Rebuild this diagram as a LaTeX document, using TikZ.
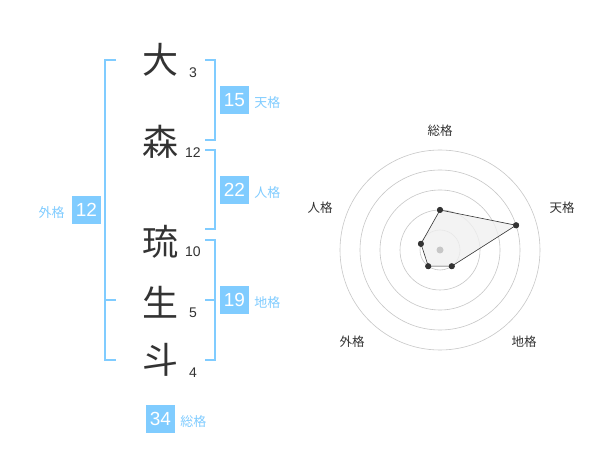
\documentclass[tikz,border=0pt]{standalone}
\usepackage{fontspec}
\usetikzlibrary{positioning}
\setmainfont{Liberation Sans}
\newfontfamily\jp{Noto Sans CJK JP}
\definecolor{sky}{RGB}{128,204,255}
\definecolor{ink}{RGB}{51,51,51}
\begin{document}
\begin{tikzpicture}[x=1pt,y=-1pt,
  kanji/.style={font=\jp\fontsize{36}{36}\selectfont,text=ink,inner sep=0pt},
  strokes/.style={font=\fontsize{14}{14}\selectfont,text=ink,inner sep=0pt},
  valbox/.style={fill=sky,text=white,font=\fontsize{19}{19}\selectfont,minimum width=29pt,minimum height=28pt,inner sep=0pt},
  kaku/.style={text=sky,font=\jp\fontsize{13}{13}\selectfont,inner sep=0pt,yshift=-3pt},
  axis/.style={text=ink,font=\jp\fontsize{12.5}{12.5}\selectfont,inner sep=0pt},
  brk/.style={draw=sky,line width=1.5pt},
  dot/.style={circle,fill=ink,inner sep=0pt,minimum size=6pt}]
\useasboundingbox[fill=white] (0,0) rectangle (600,470);
% name and stroke counts
\node[kanji] (k1) at (160,60) {大};
\node[kanji] (k2) at (160,142) {森};
\node[kanji] (k3) at (160,242) {琉};
\node[kanji] (k4) at (160,302) {生};
\node[kanji] (k5) at (160,360) {斗};
\node[strokes] (s1) at (193,73) {3};
\node[strokes] (s2) at (193,153) {12};
\node[strokes] (s3) at (193,252) {10};
\node[strokes] (s4) at (193,313) {5};
\node[strokes] (s5) at (193,373) {4};
% brackets
\draw[brk] (116,60) -- (105,60) -- (105,360) -- (116,360);
\draw[brk] (105,300) -- (116,300);
\draw[brk] (205,60) -- (215,60) -- (215,140) -- (205,140);
\draw[brk] (205,150) -- (215,150) -- (215,229) -- (205,229);
\draw[brk] (205,240) -- (215,240) -- (215,360) -- (205,360);
\draw[brk] (205,300) -- (215,300);
% values
\node[valbox] (ten) at (234.5,100) {15};
\node[kaku,right=5pt of ten] (lten) {天格};
\node[valbox] (jin) at (234.5,190) {22};
\node[kaku,right=5pt of jin] (ljin) {人格};
\node[valbox] (chi) at (234.5,300) {19};
\node[kaku,right=5pt of chi] (lchi) {地格};
\node[valbox] (gai) at (86.5,210) {12};
\node[kaku,left=7pt of gai] (lgai) {外格};
\node[valbox] (so) at (160.5,419) {34};
\node[kaku,right=5pt of so] (lso) {総格};
% radar chart
\begin{scope}[shift={(440,250)}]
\foreach \r in {20,40,...,100}
  \draw[black!22,line width=0.6pt] (0,0) circle (\r pt);
\node[dot] (pso) at (90:40pt) {};
\node[dot] (pten) at (18:80pt) {};
\node[dot] (pchi) at (-54:20pt) {};
\node[dot] (pgai) at (-126:20pt) {};
\node[dot] (pjin) at (162:20pt) {};
\draw[ink,line width=0.6pt,fill=black!6,fill opacity=0.8] (pso.center) -- (pten.center) -- (pchi.center) -- (pgai.center) -- (pjin.center) -- cycle;
\foreach \p in {pso,pten,pchi,pgai,pjin}
  \fill[ink] (\p) circle (3pt);
\fill[black!22] (0,0) circle (3.5pt);
\end{scope}
\node[axis] (aso) at (440,131) {総格};
\node[axis] (aten) at (562,208) {天格};
\node[axis] (achi) at (524,342) {地格};
\node[axis] (agai) at (352,342) {外格};
\node[axis] (ajin) at (320,208) {人格};
\end{tikzpicture}
\end{document}
